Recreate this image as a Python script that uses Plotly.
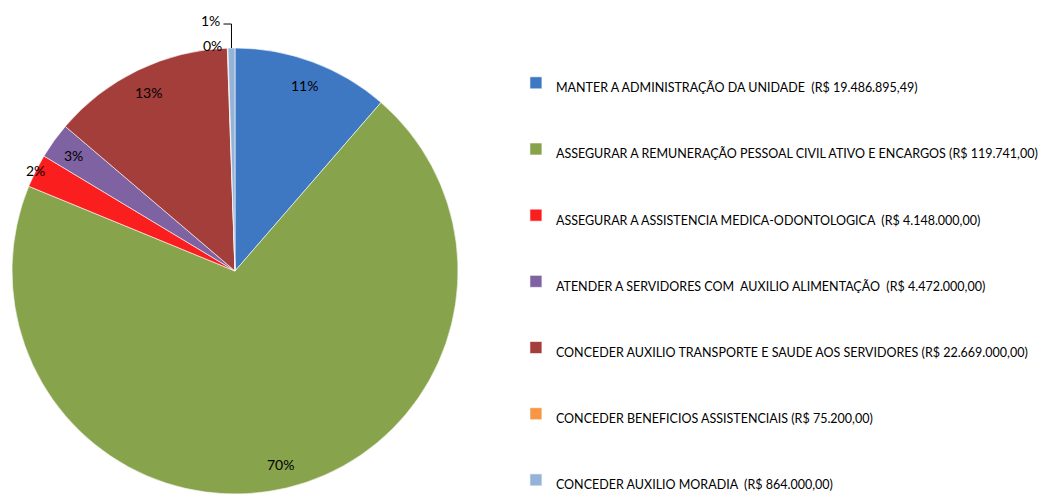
import math
import plotly.graph_objects as go

# budget actions (R$)
acoes = [
    "MANTER A ADMINISTRAÇÃO DA UNIDADE  (R$ 19.486.895,49)",
    "ASSEGURAR A REMUNERAÇÃO PESSOAL CIVIL ATIVO E ENCARGOS (R$ 119.741,00)",
    "ASSEGURAR A ASSISTENCIA MEDICA-ODONTOLOGICA  (R$ 4.148.000,00)",
    "ATENDER A SERVIDORES COM  AUXILIO ALIMENTAÇÃO  (R$ 4.472.000,00)",
    "CONCEDER AUXILIO TRANSPORTE E SAUDE AOS SERVIDORES (R$ 22.669.000,00)",
    "CONCEDER BENEFICIOS ASSISTENCIAIS (R$ 75.200,00)",
    "CONCEDER AUXILIO MORADIA  (R$ 864.000,00)",
]
valores = [19486895.49, 119741000.00, 4148000.00, 4472000.00, 22669000.00, 75200.00, 864000.00]
cores = ["#3F78C2", "#87A34C", "#FA1E1E", "#7E62A1", "#A43E3B", "#F79646", "#95B3D7"]

W, H = 1056, 497
m = dict(l = 0, r = 0, t = 40, b = 11)
dom_x = [0, 454 / 1056]

# blank line above each legend entry gives the wide spacing of the original
rotulos = ["<br><span style='font-size:12.5px'>" + a + "</span>" for a in acoes]

fig = go.Figure(go.Pie(
    labels = rotulos,
    values = valores,
    marker = dict(colors = cores, line = dict(color = "rgba(255,255,255,0.6)", width = 1)),
    sort = False,
    direction = "clockwise",
    rotation = 0,
    textinfo = "none",
    hovertemplate = "%{percent:.1%}<extra></extra>",
    domain = {'x': dom_x, 'y': [0, 1]},
))

# percentage labels placed like excel "inside end"
pw, ph = W - m['l'] - m['r'], H - m['t'] - m['b']
raio = min((dom_x[1] - dom_x[0]) * pw, ph) / 2
cx, cy = (dom_x[0] + dom_x[1]) / 2, 0.5
total = sum(valores)
acum = 0
for i, v in enumerate(valores):
    meio = (acum + v / 2) / total * 2 * math.pi
    acum += v
    pct = "{:.0%}".format(v / total)
    sx, sy = math.sin(meio), math.cos(meio)
    if i == 5:
        # tiny slice, label just outside the rim
        fig.add_annotation(x = cx + raio * 1.013 * sx / pw, y = cy + raio * 1.013 * sy / ph,
                           text = pct, xanchor = "right", xshift = -4)
    elif i == 6:
        # label with leader line
        bx, by = cx + raio * sx / pw, cy + raio * sy / ph
        ty = by + 24 / ph
        fig.add_shape(type = "path", xref = "paper", yref = "paper",
                      path = "M {} {} L {} {} L {} {}".format(bx, by, bx, ty, bx - 8 / pw, ty),
                      line = dict(color = "black", width = 1))
        fig.add_annotation(x = bx - 9 / pw, y = ty, text = pct, xanchor = "right", yshift = 4)
    else:
        f = 1.0 if i == 2 else 0.89
        fig.add_annotation(x = cx + raio * f * sx / pw, y = cy + raio * f * sy / ph, text = pct)

fig.update_annotations(xref = "paper", yref = "paper", showarrow = False, yanchor = "middle",
                       font = dict(size = 14, color = "black"))
fig.update_annotations(selector = dict(xanchor = None), xanchor = "center")

fig.update_layout(
    width = W, height = H,
    margin = m,
    paper_bgcolor = "white",
    font = dict(family = "Lato, sans-serif", size = 12, color = "black"),
    legend = dict(x = 0.481, y = -0.02, xanchor = "left", yanchor = "bottom",
                  font = dict(size = 24.3), itemwidth = 30, valign = "bottom",
                  maxheight = 1000),
)

fig.write_html("out.html")
